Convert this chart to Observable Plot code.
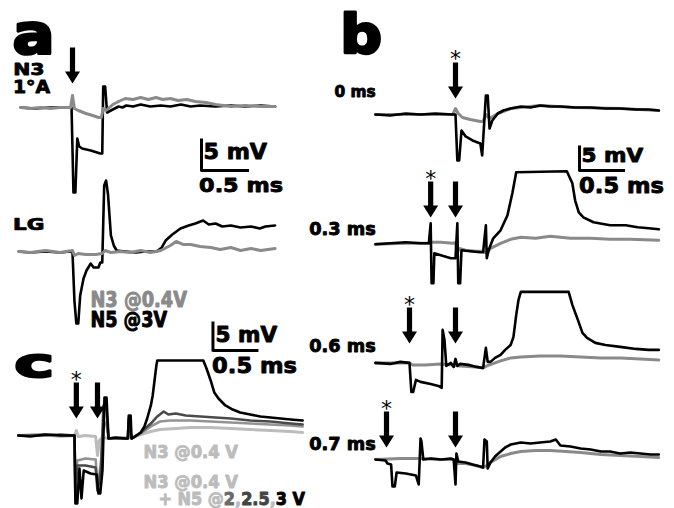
<!DOCTYPE html>
<html><head><meta charset="utf-8">
<script src="https://cdn.jsdelivr.net/npm/d3@7"></script>
<script src="https://cdn.jsdelivr.net/npm/@observablehq/plot@0.6"></script>
<style>
html,body{margin:0;padding:0;background:#fff;}
#fig{position:relative;width:674px;height:508px;overflow:hidden;background:#fff;}
#fig svg{position:absolute;left:0;top:0;}
</style></head><body><div id="fig"></div>
<script>
// ---------- DATA: traces as [time (ms), membrane potential (mV)] ----------
// Panel a, N3 1°A recording
const a_N3_gray = [[-0.54,0],[-0.44,-0.17],[-0.33,0],[-0.23,-0.17],[-0.13,0],[-0.02,0],[0,2],[0.02,-0.17],[0.06,-0.5],[0.14,-1],[0.21,-1.33],[0.27,-1.67],[0.30,-1.67],[0.32,-0.17],[0.35,-0.5],[0.42,0.5],[0.48,1],[0.55,1.5],[0.63,1.33],[0.71,1.67],[0.79,1.33],[0.87,1.67],[0.94,1.33],[1.02,1.5],[1.10,1.17],[1.19,1.33],[1.28,1],[1.39,0.83],[1.49,0.5],[1.65,0.17],[1.80,0.33],[1.96,0.17],[2.11,0.17]];
const a_N3_black = [[-0.54,0],[-0.39,-0.17],[-0.23,0],[-0.07,0],[-0.01,0],[0.01,-14.17],[0.03,-14.17],[0.05,-5.17],[0.07,-6.5],[0.10,-6.83],[0.19,-7.17],[0.29,-7.67],[0.31,-7.67],[0.32,3.5],[0.34,3.5],[0.36,-0.83],[0.40,-0.5],[0.44,-0.17],[0.48,0.17],[0.52,0],[0.56,0.33],[0.63,0.17],[0.71,0.5],[0.81,0.17],[0.92,0.33],[1.02,0.17],[1.13,0.5],[1.23,0.17],[1.33,0.33],[1.49,0.17],[1.65,0.33],[1.80,0.17],[1.96,0.33],[2.11,0.17]];
// Panel a, LG recording
const a_LG_black = [[-0.56,0],[-0.44,-0.17],[-0.28,0],[-0.13,-0.17],[-0.02,0],[0,-0.17],[0.02,-8.17],[0.04,-12],[0.06,-12],[0.08,-7.33],[0.115,-4.5],[0.146,-3.17],[0.19,-2],[0.22,-2.67],[0.27,-2.67],[0.29,-1.83],[0.31,-1.83],[0.33,11],[0.35,11.83],[0.37,9.5],[0.40,2.67],[0.43,1],[0.46,0.17],[0.55,0],[0.66,-0.17],[0.76,0],[0.875,0],[0.93,0.67],[0.97,1.83],[1.04,2.83],[1.125,3.83],[1.21,4.33],[1.28,4.67],[1.36,5.17],[1.42,4.5],[1.49,4.67],[1.56,4.17],[1.65,4.33],[1.75,4],[1.86,4.17],[1.95,3.83],[2.01,4.17],[2.11,4.33]];
const a_LG_gray = [[-0.56,0],[-0.44,-0.17],[-0.28,0.17],[-0.13,-0.17],[0,0.17],[0.02,-0.67],[0.06,-0.33],[0.135,-0.5],[0.24,-0.5],[0.31,-0.33],[0.34,0.17],[0.40,-0.17],[0.5,0],[0.60,-0.17],[0.71,0.17],[0.81,-0.17],[0.92,0.17],[1.02,1],[1.08,1.67],[1.15,1.17],[1.23,1.17],[1.33,0.83],[1.44,0.67],[1.54,0.33],[1.65,0.67],[1.75,0.17],[1.86,0.5],[1.96,0.17],[2.11,0.5]];
// Panel b, four inter-stimulus delays (0, 0.3, 0.6, 0.7 ms)
const b_r0_gray = [[-0.87,0],[-0.38,0],[-0.03,0],[0,1.3],[0.03,0.22],[0.076,-0.65],[0.16,-1.09],[0.27,-1.52],[0.30,-1.52],[0.33,0],[0.37,-0.87],[0.46,0.22],[0.60,1.3],[0.92,1.96],[1.30,1.52],[1.79,1.3],[2.21,0.87]];
const b_r0_black = [[-0.87,0],[-0.71,-0.22],[-0.54,0.22],[-0.38,0],[-0.22,0.22],[-0.03,0],[0,0],[0.02,-10],[0.04,-10],[0.065,-3.48],[0.11,-4.78],[0.185,-5.65],[0.27,-6.3],[0.29,-8.91],[0.33,4.13],[0.35,4.13],[0.37,-3.04],[0.40,-1.3],[0.46,0.22],[0.52,0.87],[0.60,1.3],[0.71,1.74],[0.815,1.52],[0.92,1.96],[1.03,1.74],[1.14,1.74],[1.30,1.52],[1.47,1.52],[1.63,1.3],[1.79,1.3],[1.96,1.09],[2.10,1.09],[2.21,0.87]];
const b_r1_gray = [[-0.87,-0.22],[-0.54,0],[-0.29,0],[-0.26,0.22],[-0.16,0.22],[-0.03,0],[0,0.22],[0.02,-1.96],[0.04,-1.09],[0.11,-1.52],[0.22,-1.74],[0.30,-1.74],[0.34,-2.17],[0.38,-1.09],[0.49,0],[0.60,0.87],[0.71,1.3],[0.87,1.09],[1.03,1.52],[1.25,1.09],[1.47,1.09],[1.68,0.87],[1.90,0.87],[2.21,0.65]];
const b_r1_black = [[-0.87,-0.22],[-0.71,0],[-0.54,0.22],[-0.38,0],[-0.29,0],[-0.27,4.35],[-0.26,-8.7],[-0.24,-8.7],[-0.23,-2.17],[-0.16,-2.61],[-0.05,-3.26],[0,-3.26],[0.02,4.35],[0.03,-8.7],[0.05,-8.7],[0.065,-1.52],[0.16,-1.74],[0.27,-1.96],[0.30,-1.96],[0.33,3.91],[0.34,-3.26],[0.36,-1.52],[0.41,1.09],[0.49,2.83],[0.565,6.09],[0.62,11.09],[0.66,15.43],[1.21,15.65],[1.27,13.04],[1.30,9.35],[1.34,6.74],[1.39,5.65],[1.50,4.57],[1.68,3.91],[1.85,3.91],[1.98,3.48],[2.10,3.26],[2.21,3.04]];
const b_r2_gray = [[-0.87,0],[-0.50,0],[-0.47,-0.43],[-0.33,-0.43],[-0.16,-0.22],[-0.05,-0.43],[0.05,-0.65],[0.22,-0.87],[0.30,-1.09],[0.34,-0.65],[0.40,-0.22],[0.49,0.43],[0.60,1.09],[0.71,1.3],[0.92,1.52],[1.14,1.52],[1.36,1.3],[1.58,1.09],[1.79,1.09],[2.01,0.87],[2.21,0.65]];
const b_r2_black = [[-0.87,0],[-0.71,-0.22],[-0.60,0.22],[-0.50,0],[-0.48,-6.3],[-0.46,-6.3],[-0.43,-3.7],[-0.38,-4.13],[-0.27,-4.57],[-0.185,-5],[-0.15,-5.43],[-0.14,7.17],[-0.12,5],[-0.10,-0.65],[-0.05,0],[-0.02,-0.87],[0,0.87],[0.02,-0.65],[0.05,-0.22],[0.14,-0.43],[0.23,-0.87],[0.30,-1.09],[0.33,3.26],[0.35,0.22],[0.38,0.22],[0.43,1.09],[0.49,1.74],[0.54,2.83],[0.60,3.91],[0.63,5.65],[0.66,10.43],[0.685,13.7],[0.71,15.43],[1.23,15.43],[1.27,12.61],[1.33,9.35],[1.38,6.52],[1.43,5.43],[1.52,4.35],[1.63,3.91],[1.79,3.48],[1.96,3.04],[2.10,2.83],[2.21,2.83]];
const b_r3_gray = [[-0.87,0],[-0.60,0.22],[-0.38,0.22],[-0.16,0],[-0.02,0],[0.01,-0.87],[0.11,-0.87],[0.22,-1.3],[0.30,-1.74],[0.34,-1.3],[0.38,-0.65],[0.49,0.65],[0.60,1.3],[0.71,1.74],[0.87,1.96],[1.03,1.96],[1.20,1.74],[1.36,1.52],[1.58,1.09],[1.79,0.87],[2.01,0.65],[2.21,0.43]];
const b_r3_black = [[-0.87,0],[-0.76,-0.22],[-0.74,-0.87],[-0.70,-1.09],[-0.685,-5.87],[-0.66,-5.87],[-0.64,-2.83],[-0.54,-3.04],[-0.43,-3.48],[-0.40,-5.43],[-0.38,4.57],[-0.37,3.91],[-0.35,0],[-0.27,0.22],[-0.16,0],[-0.05,0.22],[-0.02,0],[0,-5.43],[0.01,1.3],[0.03,-0.43],[0.11,-0.65],[0.185,-1.09],[0.27,-1.52],[0.30,-1.74],[0.315,4.35],[0.34,3.91],[0.35,-1.96],[0.38,-0.65],[0.43,0.65],[0.49,1.74],[0.54,2.61],[0.60,3.26],[0.71,3.7],[0.815,3.48],[0.92,3.7],[1.03,3.91],[1.09,4.35],[1.14,3.04],[1.25,2.83],[1.36,2.39],[1.47,2.17],[1.58,1.74],[1.68,1.74],[1.79,1.3],[1.90,1.52],[2.01,1.3],[2.12,1.09],[2.21,1.09]];
// Panel c, N3 @0.4 V alone and with N5 @2, 2.5, 3 V
const c_N3 = [[-0.86,0],[-0.62,0.19],[-0.40,-0.19],[-0.25,0],[-0.23,0.93],[-0.21,-0.19],[-0.13,0],[-0.02,-0.19],[0,-3.7],[0.02,-0.93],[0.05,-0.37],[0.14,-0.56],[0.25,-0.37],[0.36,-0.37],[0.47,0.19],[0.58,0.74],[0.68,1.11],[0.85,1.3],[1.01,1.48],[1.23,1.48],[1.45,1.3],[1.66,1.11],[1.88,0.93],[2.10,0.74],[2.23,0.56]];
const c_N5_2 = [[-0.86,0],[-0.60,0.19],[-0.40,0],[-0.25,0],[-0.24,-10.19],[-0.22,-4.63],[-0.13,-4.26],[-0.02,-4.44],[0,-9.26],[0.02,-7.41],[0.04,-4.44],[0.065,2.78],[0.098,1.85],[0.12,-0.56],[0.25,-0.56],[0.33,-0.56],[0.34,2.78],[0.37,-0.56],[0.47,0.37],[0.58,1.67],[0.68,2.59],[0.79,2.78],[1.01,2.78],[1.23,2.59],[1.45,2.41],[1.66,2.22],[1.88,2.04],[2.10,1.85],[2.23,1.67]];
const c_N5_25 = [[-0.86,0],[-0.60,0],[-0.40,0.19],[-0.25,0],[-0.24,-11.11],[-0.22,-5.56],[-0.13,-5.56],[-0.02,-5.93],[0,-10.19],[0.02,-8.33],[0.04,-5.74],[0.065,5.56],[0.098,4.63],[0.12,-0.56],[0.33,-0.56],[0.34,3.15],[0.37,-0.56],[0.47,0.56],[0.58,2.22],[0.65,3.52],[0.72,4.44],[0.77,3.89],[0.85,4.07],[0.96,3.7],[1.12,3.52],[1.28,3.33],[1.45,3.15],[1.66,2.78],[1.88,2.59],[2.10,2.22],[2.23,2.04]];
const c_N5_3 = [[-0.86,0],[-0.73,-0.19],[-0.565,0.19],[-0.40,0],[-0.25,0],[-0.24,-12.59],[-0.22,-12.59],[-0.196,-6.11],[-0.174,-11.67],[-0.15,-6.48],[-0.076,-7.04],[-0.01,-7.22],[0.01,-10.74],[0.03,-10.74],[0.054,-6.48],[0.076,7.04],[0.098,7.04],[0.12,-0.56],[0.196,-0.37],[0.30,-0.56],[0.33,-0.56],[0.34,3.7],[0.36,3.7],[0.37,-0.56],[0.41,-0.19],[0.47,0.56],[0.51,1.67],[0.54,3.15],[0.58,5.56],[0.60,7.41],[0.62,10.19],[0.64,12.96],[0.65,13.89],[1.15,13.89],[1.185,12.41],[1.23,10.19],[1.27,7.96],[1.315,6.85],[1.39,5.56],[1.47,4.81],[1.55,4.26],[1.66,3.89],[1.77,3.52],[1.88,3.33],[1.99,3.15],[2.10,2.96],[2.23,2.78]];
// Stimulus times (ms)
const stimA = [0];
const stimB = [[0], [-0.27, 0], [-0.5, 0], [-0.75, 0]];
const stimC = [-0.23, 0];
const rowLabelsB = ["0 ms", "0.3 ms", "0.6 ms", "0.7 ms"];
// Scale bars
const BAR_MS = 0.5, BAR_MV = 5;

// ---------- LAYOUT / STYLE ----------
const GRAY = "#8a8a8a", LIGHT = "#bcbcbc", MID = "#939393", DARK = "#4a4a4a";
const W = 674, H = 508;
const rowOffB = [0, -28, -54, -75];
const tipB = [3.5, -22.39, -49.78, -72.39];

const arrowSymbol = {draw(ctx) {
  const hw = 7.5, hh = 12, sw = 2.6, L = 36;
  ctx.moveTo(0, 0); ctx.lineTo(-hw, -hh); ctx.lineTo(-sw, -hh); ctx.lineTo(-sw, -L);
  ctx.lineTo(sw, -L); ctx.lineTo(sw, -hh); ctx.lineTo(hw, -hh); ctx.closePath();
}};

function panel(cfg) {
  const marks = [];
  for (const tr of cfg.traces) {
    marks.push(Plot.line(tr.pts.map(([t, v]) => ({t, v: v + (tr.off || 0)})),
      {x: "t", y: "v", stroke: tr.color, strokeWidth: tr.w, strokeLinejoin: "round"}));
  }
  marks.push(Plot.dot(cfg.arrows, {x: "t", y: "tip", symbol: arrowSymbol, r: 5, fill: "#000", stroke: "none"}));
  marks.push(Plot.text(cfg.arrows.filter(d => d.star), {x: "t", y: "tip", text: d => "*", dy: -39,
    fontSize: 22, fontFamily: "DejaVu Sans", fill: "#000"}));
  marks.push(Plot.ruleX([cfg.bar], {x: "t", y1: "v", y2: d => d.v + BAR_MV, strokeWidth: 3, strokeLinecap: "square"}));
  marks.push(Plot.ruleY([cfg.bar], {y: "v", x1: "t", x2: d => d.t + BAR_MS, strokeWidth: 3}));
  return Plot.plot({width: W, height: H, margin: 0,
    x: {domain: cfg.x, axis: null}, y: {domain: cfg.y, axis: null},
    style: {background: "transparent", overflow: "visible"}, marks});
}

const fig = document.getElementById("fig");

fig.appendChild(panel({
  x: [-0.75, 6.2708], y: [-66.833, 17.833],
  traces: [
    {pts: a_N3_black, color: "#000", w: 2.6},
    {pts: a_N3_gray, color: GRAY, w: 3},
    {pts: a_LG_black, off: -24, color: "#000", w: 2.6},
    {pts: a_LG_gray, off: -24, color: GRAY, w: 3}
  ],
  arrows: stimA.map(t => ({t, tip: 4, star: false})),
  bar: {t: 1.344, v: -10.5}
}));

const bTraces = [];
const bGray = [b_r0_gray, b_r1_gray, b_r2_gray, b_r3_gray];
const bBlack = [b_r0_black, b_r1_black, b_r2_black, b_r3_black];
bGray.forEach((p, i) => bTraces.push({pts: p, off: rowOffB[i], color: GRAY, w: 3}));
bBlack.forEach((p, i) => bTraces.push({pts: p, off: rowOffB[i], color: "#000", w: 2.6}));
const bArrows = [];
stimB.forEach((ts, i) => ts.forEach((t, j) => bArrows.push({t, tip: tipB[i], star: j === 0})));
fig.appendChild(panel({
  x: [-4.9457, 2.3804], y: [-85.652, 24.783],
  traces: bTraces, arrows: bArrows, bar: {t: 1.348, v: -12.17}
}));

fig.appendChild(panel({
  x: [-1.0543, 6.2717], y: [-13.519, 80.556],
  traces: [
    {pts: c_N3, color: LIGHT, w: 3},
    {pts: c_N5_2, color: MID, w: 2.6},
    {pts: c_N5_25, color: DARK, w: 2.6},
    {pts: c_N5_3, color: "#000", w: 2.6}
  ],
  arrows: stimC.map((t, j) => ({t, tip: 3.15, star: j === 0})),
  bar: {t: 1.255, v: 15.74}
}));

// ---------- TEXT LABELS ----------
const labels = [
  {text: "a", x0: 15, x1: 50, top: 22, base: 53, ref: "a", sw: 3},
  {text: "b", x0: 345, x1: 380, top: 12, base: 53, ref: "b", sw: 3},
  {text: "c", x0: 17, x1: 50, top: 354, base: 377, ref: "c", sw: 3},
  {text: "N3", x0: 15, x1: 43, top: 63, base: 75},
  {text: "1°A", x0: 15, x1: 50, top: 80, base: 93},
  {text: "LG", x0: 15, x1: 43, top: 219, base: 230},
  {text: "5 mV", x0: 205, x1: 267, top: 143, base: 159},
  {text: "0.5 ms", x0: 200, x1: 282, top: 178, base: 192},
  {text: "N3 @0.4V", color: GRAY, x0: 92, x1: 187, top: 292, base: 307},
  {text: "N5 @3V", x0: 92, x1: 167, top: 312, base: 327},
  {text: rowLabelsB[0], x0: 335, x1: 375, top: 85, base: 97},
  {text: rowLabelsB[1], x0: 310, x1: 375, top: 222, base: 235},
  {text: rowLabelsB[2], x0: 310, x1: 375, top: 339, base: 352},
  {text: rowLabelsB[3], x0: 310, x1: 375, top: 437, base: 450},
  {text: "5 mV", x0: 583, x1: 643, top: 148, base: 162},
  {text: "0.5 ms", x0: 580, x1: 663, top: 177, base: 193},
  {text: "5 mV", x0: 217, x1: 277, top: 327, base: 342},
  {text: "0.5 ms", x0: 213, x1: 296, top: 357, base: 373},
  {text: "N3 @0.4 V", color: LIGHT, x0: 145, x1: 238, top: 445, base: 458},
  {text: "N3 @0.4 V", color: LIGHT, x0: 145, x1: 238, top: 475, base: 488},
  {parts: [["+ N5 @", LIGHT], ["2", "#6a6a6a"], [",", LIGHT], ["2.5", "#444"], [",", LIGHT], ["3 V", "#000"]],
   x0: 160, x1: 305, top: 492, base: 505}
];

const lsvg = d3.select(fig).append("svg").attr("width", W).attr("height", H);
const ctx = document.createElement("canvas").getContext("2d");
ctx.font = 'bold 100px "DejaVu Sans"';
for (const L of labels) {
  const parts = L.parts || [[L.text, L.color || "#000"]];
  const full = parts.map(p => p[0]).join("");
  const m = ctx.measureText(full);
  const ref = ctx.measureText(L.ref || "H");
  const inkW = m.actualBoundingBoxLeft + m.actualBoundingBoxRight;
  const capH = ref.actualBoundingBoxAscent;
  const sx = (L.x1 - L.x0) / inkW, sy = (L.base - L.top) / capH;
  const sw = (L.sw || 0.9) / ((sx + sy) / 2);
  const t = lsvg.append("text")
    .attr("transform", `translate(${L.x0 + m.actualBoundingBoxLeft * sx},${L.base}) scale(${sx},${sy})`)
    .attr("font-family", "DejaVu Sans").attr("font-weight", "bold").attr("font-size", 100)
    .style("white-space", "pre");
  parts.forEach(([s, c]) => t.append("tspan").text(s).attr("fill", c).attr("stroke", c)
    .attr("stroke-width", sw).attr("stroke-linejoin", "round"));
}
</script></body></html>
